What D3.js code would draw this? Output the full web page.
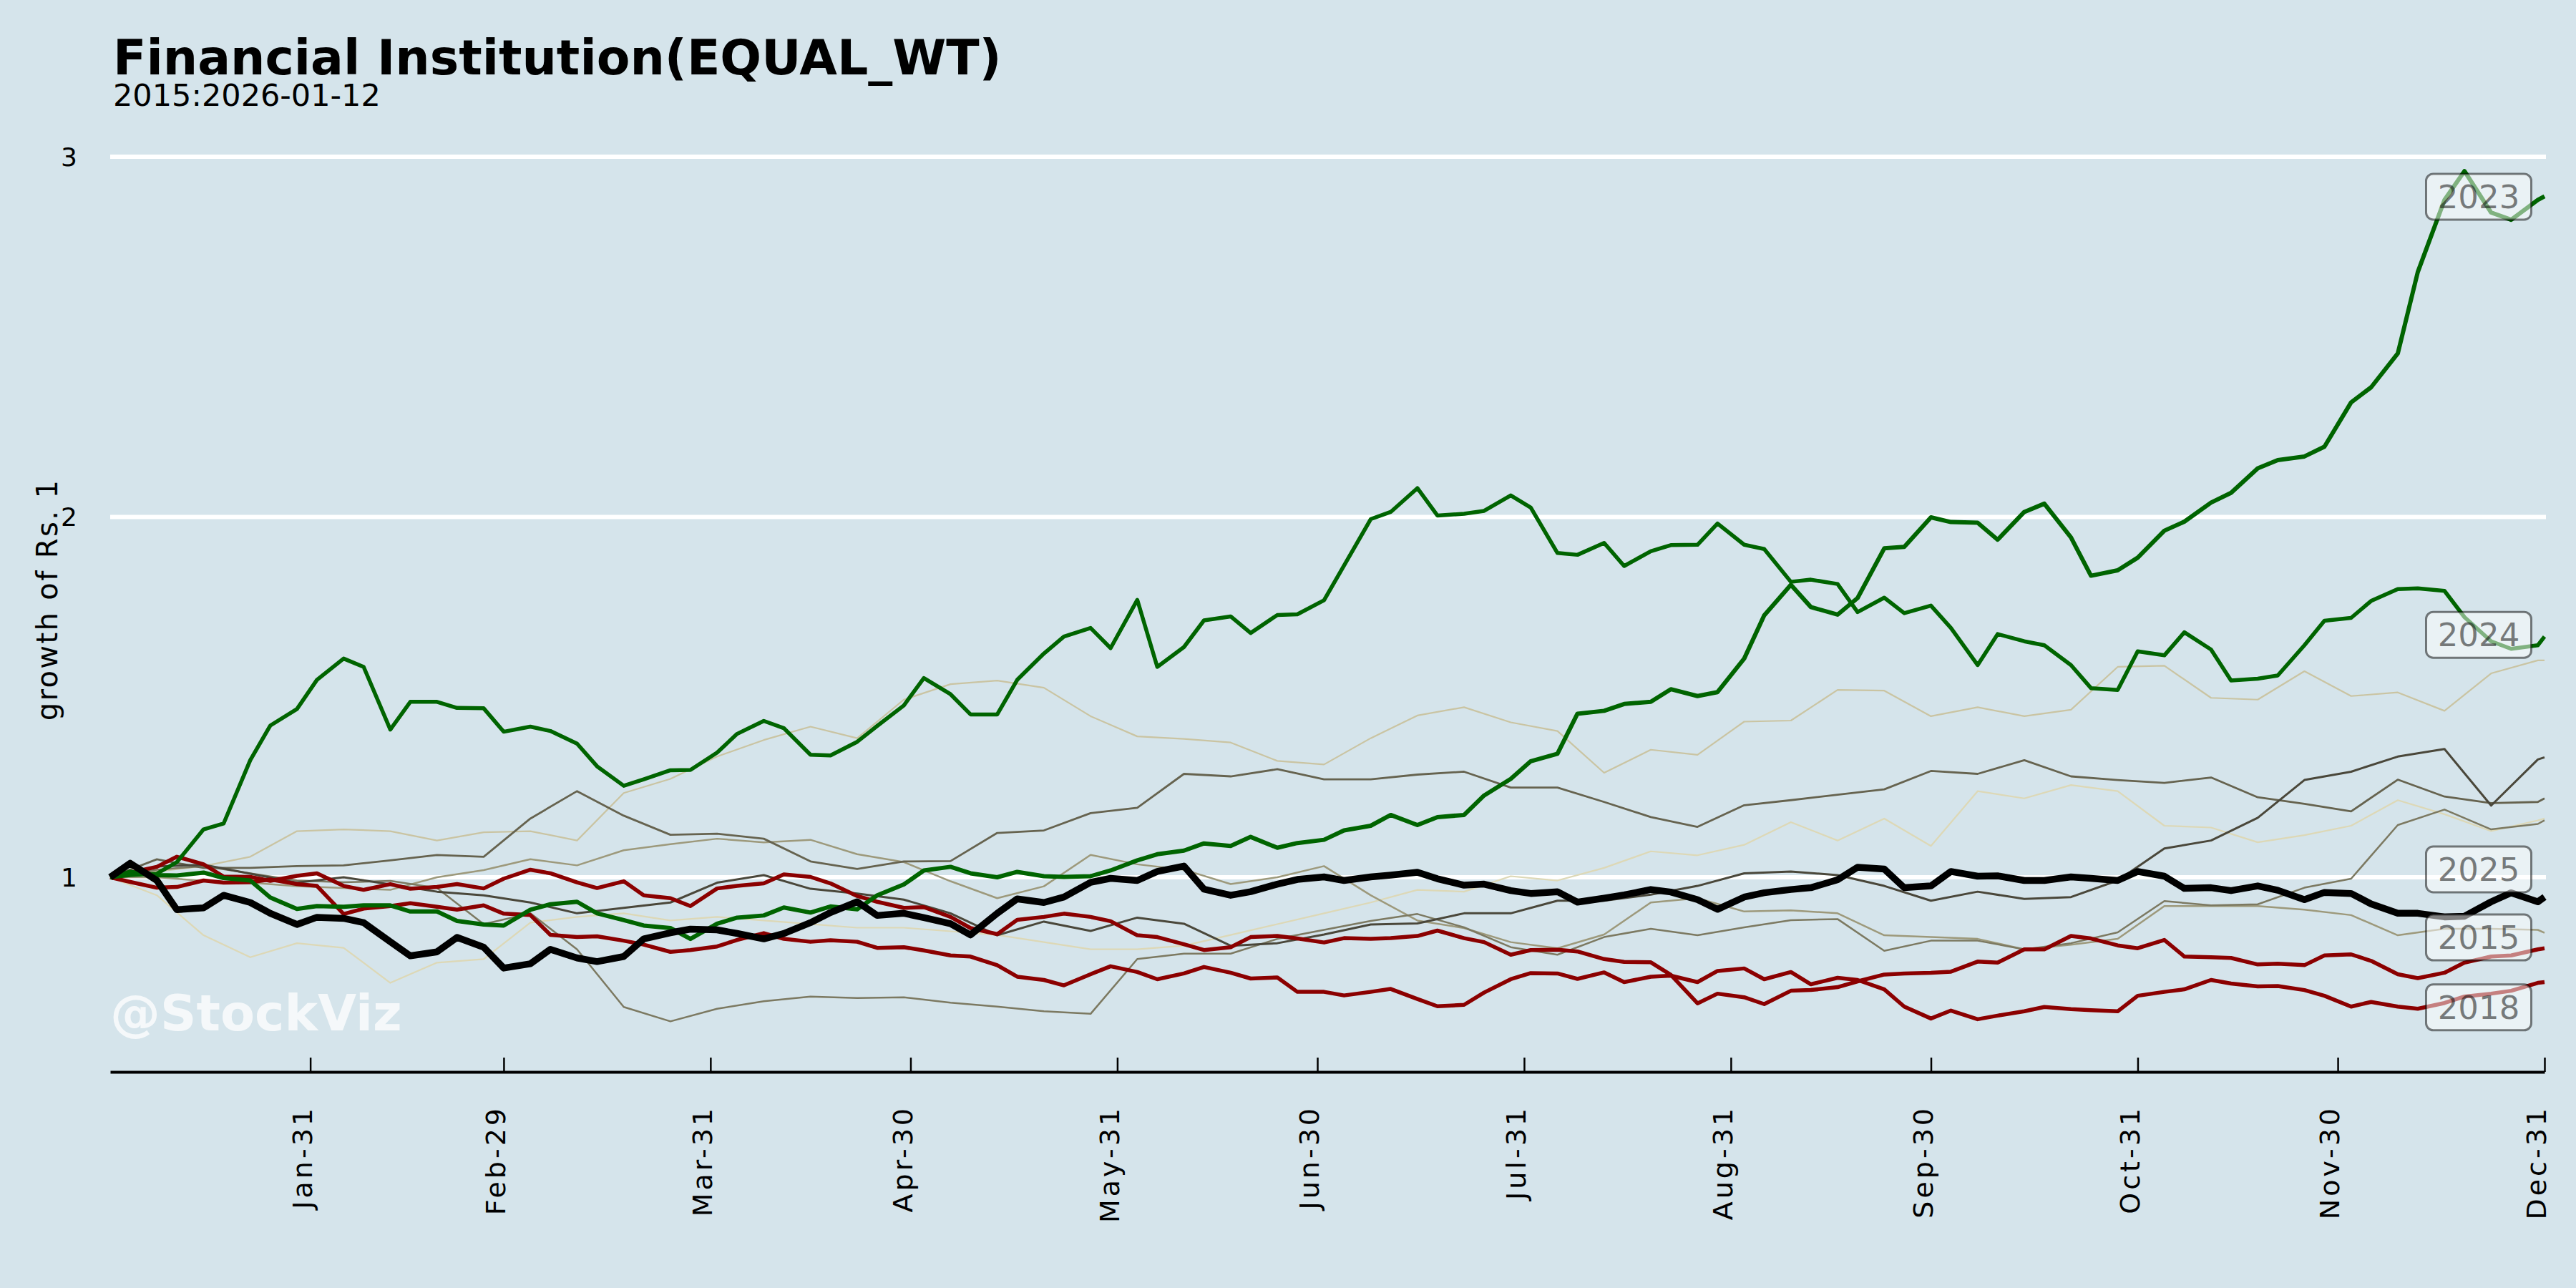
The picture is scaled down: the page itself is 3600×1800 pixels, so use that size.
<!DOCTYPE html>
<html>
<head>
<meta charset="utf-8">
<script src="https://cdn.jsdelivr.net/npm/d3@7/dist/d3.min.js"></script>
<style>
html, body { margin:0; padding:0; background:#d5e4eb; }
svg { display:block; }
</style>
</head>
<body>
<script>

// sample dates, mapped onto a leap-year calendar
var weekDates = ['01-01','01-08','01-15','01-22','01-29','02-05','02-12','02-19','02-26','03-04','03-11','03-18','03-25',
	'04-01','04-08','04-15','04-22','04-29','05-06','05-13','05-20','05-27','06-03','06-10','06-17','06-24',
	'07-01','07-08','07-15','07-22','07-29','08-05','08-12','08-19','08-26','09-02','09-09','09-16','09-23','09-30',
	'10-07','10-14','10-21','10-28','11-04','11-11','11-18','11-25','12-02','12-09','12-16','12-23','12-30','12-31'];

var halfWeekDates = ['01-01','01-04','01-08','01-11','01-15','01-18','01-22','01-25','01-29','02-01','02-05','02-08',
	'02-12','02-15','02-19','02-22','02-26','02-29','03-04','03-07','03-11','03-14','03-18','03-21','03-25','03-28',
	'04-01','04-04','04-08','04-11','04-15','04-18','04-22','04-25','04-29','05-02','05-06','05-09','05-13','05-16',
	'05-20','05-23','05-27','05-30','06-03','06-06','06-10','06-13','06-17','06-20','06-24','06-27','07-01','07-04',
	'07-08','07-11','07-15','07-18','07-22','07-25','07-29','08-01','08-05','08-08','08-12','08-15','08-19','08-22',
	'08-26','08-29','09-02','09-05','09-09','09-12','09-16','09-19','09-23','09-26','09-30','10-03','10-07','10-10',
	'10-14','10-17','10-21','10-24','10-28','10-31','11-04','11-07','11-11','11-14','11-18','11-21','11-25','11-28',
	'12-02','12-05','12-09','12-12','12-16','12-19','12-23','12-26','12-30','12-31'];

// highlighted years (half-week samples)
var y2015 = [1.0,1.013, 1.029,1.057, 1.036,1.002, 1.001,0.99, 1.004,1.011, 0.976,0.965, 0.981,0.968, 0.973,0.981,
	0.969,0.996, 1.021,1.011, 0.986,0.97, 0.989,0.95, 0.942,0.92, 0.969,0.976, 0.983,1.008, 1.001,0.983,
	0.948,0.932, 0.915,0.917, 0.89,0.859, 0.842,0.882, 0.89,0.899, 0.89,0.878, 0.839,0.834, 0.814,0.798,
	0.806,0.834, 0.837,0.83, 0.819,0.831, 0.829,0.831, 0.837,0.852, 0.831,0.82, 0.785,0.798, 0.799,0.794,
	0.773,0.765, 0.764,0.729, 0.65,0.677, 0.667,0.648, 0.685,0.687, 0.695,0.711, 0.73,0.733, 0.735,0.738,
	0.766,0.763, 0.8,0.8, 0.837,0.83, 0.811,0.803, 0.826,0.78, 0.778,0.776, 0.758,0.76, 0.756,0.783,
	0.786,0.768, 0.731,0.72, 0.735,0.763, 0.78,0.783, 0.8,0.803];
var y2018 = [1.0,0.987, 0.971,0.973, 0.991,0.985, 0.986,0.994, 0.981,0.976, 0.898,0.913, 0.92,0.928, 0.918,0.91,
	0.922,0.899, 0.895,0.84, 0.834,0.836, 0.824,0.813, 0.793,0.798, 0.808,0.826, 0.845,0.829, 0.821,0.825,
	0.821,0.804, 0.806,0.797, 0.783,0.78, 0.756,0.724, 0.715,0.7, 0.731,0.753, 0.737,0.717, 0.733,0.751,
	0.735,0.719, 0.722,0.682, 0.682,0.672, 0.682,0.69, 0.662,0.642, 0.646,0.68, 0.717,0.734, 0.733,0.718,
	0.736,0.709, 0.724,0.727, 0.709,0.74, 0.747,0.717, 0.737,0.703, 0.721,0.715, 0.689,0.641, 0.608,0.63,
	0.606,0.616, 0.628,0.64, 0.634,0.631, 0.628,0.671, 0.682,0.689, 0.715,0.705, 0.697,0.698, 0.687,0.671,
	0.641,0.654, 0.641,0.635, 0.651,0.669, 0.677,0.685, 0.707,0.709];
var y2023 = [1.0,1.015, 1.006,1.005, 1.013,0.998, 0.991,0.944, 0.912,0.92, 0.918,0.922, 0.922,0.905, 0.905,0.879,
	0.869,0.866, 0.91,0.925, 0.932,0.9, 0.881,0.866, 0.859,0.829, 0.871,0.888, 0.894,0.916, 0.902,0.919,
	0.911,0.95, 0.98,1.019, 1.029,1.011, 1.0,1.015, 1.003,1.001, 1.003,1.019, 1.047,1.064, 1.074,1.094,
	1.087,1.112, 1.082,1.095, 1.104,1.13, 1.143,1.173, 1.145,1.167, 1.173,1.227, 1.273,1.322, 1.343,1.454,
	1.462,1.481, 1.487,1.522, 1.503,1.514, 1.607,1.727, 1.812,1.75, 1.729,1.775, 1.913,1.917, 1.999,1.986,
	1.984,1.937, 2.014,2.037, 1.943,1.837, 1.852,1.887, 1.962,1.987, 2.04,2.067, 2.135,2.158, 2.168,2.195,
	2.318,2.36, 2.454,2.68, 2.88,2.96, 2.845,2.825, 2.88,2.89];
var y2024 = [1.0,1.006, 1.01,1.042, 1.133,1.149, 1.325,1.421, 1.467,1.548, 1.607,1.584, 1.41,1.487, 1.487,1.47,
	1.469,1.404, 1.418,1.406, 1.371,1.308, 1.254,1.272, 1.297,1.298, 1.346,1.398, 1.434,1.414, 1.34,1.338,
	1.376,1.42, 1.477,1.553, 1.508,1.452, 1.452,1.548, 1.621,1.668, 1.692,1.636, 1.77,1.584, 1.639,1.713,
	1.724,1.678, 1.728,1.73, 1.769,1.865, 1.994,2.014, 2.08,2.004, 2.009,2.017, 2.06,2.026, 1.9,1.895,
	1.928,1.864, 1.905,1.922, 1.923,1.982, 1.923,1.911, 1.82,1.826, 1.814,1.736, 1.776,1.733, 1.754,1.692,
	1.589,1.675, 1.655,1.644, 1.589,1.525, 1.52,1.627, 1.616,1.68, 1.632,1.546, 1.551,1.56, 1.644,1.712,
	1.72,1.767, 1.8,1.802, 1.795,1.722, 1.655,1.634, 1.644,1.668];
var y2025 = [1.0,1.039, 0.991,0.91, 0.915,0.95, 0.93,0.9, 0.869,0.889, 0.886,0.874, 0.821,0.782, 0.793,0.833,
	0.806,0.748, 0.76,0.8, 0.776,0.766, 0.78,0.829, 0.846,0.856, 0.854,0.844, 0.829,0.844, 0.874,0.902,
	0.932,0.894, 0.9,0.888, 0.871,0.84, 0.9,0.94, 0.93,0.945, 0.986,0.997, 0.991,1.016, 1.031,0.967,
	0.95,0.96, 0.981,0.994, 1.001,0.991, 1.001,1.006, 1.014,0.996, 0.978,0.981, 0.963,0.955, 0.96,0.931,
	0.942,0.951, 0.966,0.959, 0.938,0.911, 0.945,0.957, 0.966,0.971, 0.993,1.028, 1.023,0.971, 0.976,1.016,
	1.003,1.004, 0.991,0.991, 1.001,0.997, 0.991,1.016, 1.003,0.969, 0.971,0.963, 0.976,0.964, 0.938,0.958,
	0.955,0.926, 0.9,0.9, 0.89,0.892, 0.932,0.957, 0.932,0.945];

// faded years (weekly samples)
var y2016 = [1.0,0.95,0.839,0.778,0.817,0.804,0.707,0.763,0.773,0.874,0.89,0.9,0.88,0.89,
	0.88,0.87,0.86,0.86,0.85,0.84,0.82,0.80,0.80,0.81,0.84,0.87,0.90,0.93,
	0.965,0.96,1.003,0.991,1.026,1.072,1.061,1.09,1.153,1.102,1.163,1.087,1.239,1.219,
	1.256,1.239,1.143,1.138,1.097,1.117,1.143,1.214,1.175,1.128,1.158,1.163];
var y2017 = [1.0,1.016,1.031,1.057,1.128,1.133,1.128,1.102,1.125,1.128,1.102,1.234,1.273,1.335,
	1.381,1.418,1.386,1.493,1.536,1.546,1.526,1.447,1.391,1.384,1.374,1.323,1.313,1.386,
	1.449,1.472,1.43,1.406,1.29,1.354,1.34,1.432,1.435,1.52,1.518,1.447,1.472,1.447,
	1.465,1.584,1.587,1.498,1.493,1.572,1.503,1.513,1.462,1.566,1.602,1.602];
var y2019 = [1.0,1.0,0.99,0.985,0.975,0.97,0.965,1.0,1.02,1.05,1.033,1.075,1.092,1.107,
	1.097,1.104,1.064,1.042,0.989,0.942,0.975,1.062,1.036,1.021,0.981,1.0,1.031,0.95,
	0.88,0.859,0.82,0.803,0.841,0.93,0.942,0.905,0.908,0.9,0.839,0.834,0.829,0.8,
	0.813,0.829,0.92,0.92,0.92,0.91,0.895,0.839,0.857,0.857,0.854,0.846];
var y2020 = [1.0,1.021,1.031,1.011,0.991,0.986,0.99,0.97,0.87,0.9,0.8,0.64,0.6,0.635,
	0.656,0.669,0.665,0.667,0.652,0.641,0.628,0.621,0.773,0.788,0.788,0.829,0.854,0.879,
	0.898,0.861,0.806,0.785,0.834,0.857,0.839,0.861,0.881,0.884,0.796,0.824,0.824,0.8,
	0.817,0.847,0.934,0.922,0.925,0.971,0.996,1.145,1.188,1.133,1.148,1.158];
var y2021 = [1.0,1.05,1.026,1.026,1.031,1.033,1.047,1.062,1.057,1.163,1.239,1.171,1.118,1.121,
	1.107,1.044,1.023,1.044,1.045,1.123,1.13,1.178,1.193,1.287,1.28,1.3,1.272,1.272,
	1.285,1.293,1.249,1.249,1.209,1.167,1.14,1.2,1.214,1.229,1.244,1.295,1.287,1.325,
	1.28,1.27,1.262,1.277,1.222,1.204,1.183,1.271,1.224,1.206,1.209,1.219];
var y2022 = [1.0,1.03,1.035,1.01,0.985,1.0,0.98,0.96,0.95,0.93,0.9,0.915,0.93,0.985,
	1.006,0.968,0.955,0.938,0.9,0.839,0.877,0.851,0.888,0.871,0.81,0.817,0.841,0.869,
	0.872,0.9,0.9,0.935,0.935,0.952,0.976,1.011,1.016,1.006,0.976,0.935,0.96,0.94,
	0.945,0.991,1.08,1.102,1.165,1.27,1.293,1.335,1.356,1.199,1.327,1.333];

// draw order: faded years first, highlighted years on top
var drawYears = [2016, 2017, 2019, 2020, 2021, 2022, 2015, 2018, 2023, 2024, 2025];
var seriesByYear = {2015:y2015, 2016:y2016, 2017:y2017, 2018:y2018, 2019:y2019, 2020:y2020,
	2021:y2021, 2022:y2022, 2023:y2023, 2024:y2024, 2025:y2025};

var labelYears = [2023, 2024, 2025, 2015, 2018];
var labelValues = [2.889, 1.673, 1.022, 0.833, 0.639];

var yTicks = [1, 2, 3];
var xTickDates = ['01-31','02-29','03-31','04-30','05-31','06-30','07-31','08-31','09-30','10-31','11-30','12-31'];
var xTickLabels = ['Jan-31','Feb-29','Mar-31','Apr-30','May-31','Jun-30','Jul-31','Aug-31','Sep-30','Oct-31','Nov-30','Dec-31'];

var lineStyle = {
	2016: {color:'#ddd8b6', width:2.2},
	2017: {color:'#cac4a2', width:2.2},
	2019: {color:'#9d997b', width:2.5},
	2020: {color:'#7c7961', width:2.5},
	2021: {color:'#66634f', width:2.8},
	2022: {color:'#4a473a', width:3},
	2015: {color:'#8b0000', width:5.5},
	2018: {color:'#8b0000', width:5.5},
	2023: {color:'#006400', width:6},
	2024: {color:'#006400', width:5.5},
	2025: {color:'#000000', width:9.5}
};

var FONT = 'DejaVu Sans';
var bg = '#d5e4eb';

var svgSelect = d3.select('body').append('svg')
	.attr('width', 3600)
	.attr('height', 1800);

svgSelect.append('rect')
	.attr('width', 3600)
	.attr('height', 1800)
	.style('fill', bg);

var parse = d3.timeParse('%Y-%m-%d');
function toDate(md){ return parse('2024-' + md); }

var x = d3.scaleTime()
	.domain([toDate('01-01'), toDate('12-31')])
	.range([154, 3556]);

var y = d3.scaleLinear()
	.domain([1, 3])
	.range([1226, 219]);

/*
/	GRID
*/
var gridGroup = svgSelect.append('g');
gridGroup.selectAll('line').data(yTicks).enter().append('line')
	.attr('x1', 154)
	.attr('x2', 3558)
	.attr('y1', function(d){ return y(d); })
	.attr('y2', function(d){ return y(d); })
	.attr('stroke', '#ffffff')
	.attr('stroke-width', 6);

gridGroup.selectAll('text').data(yTicks).enter().append('text')
	.attr('x', 108)
	.attr('y', function(d){ return y(d); })
	.attr('dy', '0.36em')
	.attr('text-anchor', 'end')
	.attr('font-family', FONT)
	.attr('font-size', '36px')
	.attr('fill', '#000')
	.text(function(d){ return d; });

/*
/	X AXIS
*/
var xAxis = d3.axisBottom(x)
	.tickValues(xTickDates.map(toDate))
	.tickFormat(function(d, i){ return xTickLabels[i]; })
	.tickSizeInner(-20)
	.tickSizeOuter(0);

var axisGroup = svgSelect.append('g')
	.attr('transform', 'translate(0,1498)')
	.call(xAxis);

axisGroup.select('.domain')
	.attr('stroke', '#000')
	.attr('stroke-width', 4);
axisGroup.selectAll('.tick line')
	.attr('stroke', '#000')
	.attr('stroke-width', 2.5);
axisGroup.selectAll('.tick text')
	.attr('transform', 'rotate(-90)')
	.attr('x', -47)
	.attr('y', 0)
	.attr('dy', '0.05em')
	.attr('text-anchor', 'end')
	.attr('font-family', FONT)
	.attr('font-size', '38px')
	.attr('letter-spacing', '4px')
	.attr('fill', '#000');

/*
/	WATERMARK
*/
svgSelect.append('text')
	.attr('x', 154)
	.attr('y', 1440)
	.attr('font-family', FONT)
	.attr('font-weight', '700')
	.attr('font-size', '70px')
	.attr('fill', '#ffffff')
	.attr('fill-opacity', 0.75)
	.text('@StockViz');

/*
/	LINES
*/
var linesGroup = svgSelect.append('g');
drawYears.forEach(function(yr){
	var vals = seriesByYear[yr];
	var ds = vals.length == halfWeekDates.length ? halfWeekDates : weekDates;
	var line = d3.line()
		.x(function(d, i){ return x(toDate(ds[i])); })
		.y(function(d){ return y(d); });
	linesGroup.append('path')
		.datum(vals)
		.attr('d', line)
		.attr('fill', 'none')
		.attr('stroke', lineStyle[yr].color)
		.attr('stroke-width', lineStyle[yr].width)
		.attr('stroke-linejoin', 'round')
		.attr('stroke-linecap', 'butt');
});

/*
/	YEAR LABELS
*/
var labelGroup = svgSelect.append('g');
labelYears.forEach(function(yr, i){
	var g = labelGroup.append('g')
		.attr('transform', 'translate(3464,' + y(labelValues[i]) + ')');
	g.append('rect')
		.attr('x', -73.5)
		.attr('y', -32)
		.attr('width', 147)
		.attr('height', 64)
		.attr('rx', 10)
		.attr('fill', '#ffffff')
		.attr('fill-opacity', 0.5)
		.attr('stroke', '#000')
		.attr('stroke-opacity', 0.5)
		.attr('stroke-width', 3);
	g.append('text')
		.attr('x', 0)
		.attr('y', 0)
		.attr('dy', '0.36em')
		.attr('text-anchor', 'middle')
		.attr('font-family', FONT)
		.attr('font-size', '45px')
		.attr('fill', '#000')
		.attr('fill-opacity', 0.5)
		.text(yr);
});

/*
/	TITLES
*/
svgSelect.append('text')
	.attr('x', 158)
	.attr('y', 104)
	.attr('font-family', FONT)
	.attr('font-weight', '700')
	.attr('font-size', '68px')
	.attr('fill', '#000')
	.text('Financial Institution(EQUAL_WT)');

svgSelect.append('text')
	.attr('x', 158)
	.attr('y', 148)
	.attr('font-family', FONT)
	.attr('font-size', '43px')
	.attr('fill', '#000')
	.text('2015:2026-01-12');

svgSelect.append('text')
	.attr('transform', 'translate(80,838) rotate(-90)')
	.attr('text-anchor', 'middle')
	.attr('font-family', FONT)
	.attr('font-size', '40px')
	.attr('letter-spacing', '2.4px')
	.attr('fill', '#000')
	.text('growth of Rs. 1');

</script>
</body>
</html>
